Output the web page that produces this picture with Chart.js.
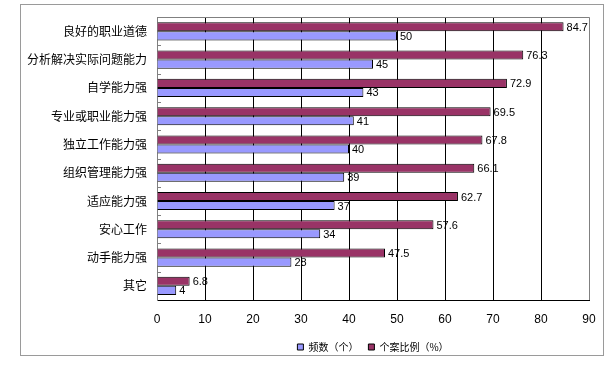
<!DOCTYPE html>
<html>
<head>
<meta charset="utf-8">
<script src="https://cdn.jsdelivr.net/npm/chart.js@4"></script>
<style>
  body { margin: 0; background: #fff; }
</style>
</head>
<body>
<canvas id="barChart" width="610" height="368"></canvas>
<script>
// 就业能力 频数 / 个案比例 横向柱状图

const categories = ['良好的职业道德', '分析解决实际问题能力', '自学能力强', '专业或职业能力强', '独立工作能力强',
    '组织管理能力强', '适应能力强', '安心工作', '动手能力强', '其它'];
const freqValues = [50, 45, 43, 41, 40, 39, 37, 34, 28, 4];
const pctValues = [84.7, 76.3, 72.9, 69.5, 67.8, 66.1, 62.7, 57.6, 47.5, 6.8];
const xTicks = [0, 10, 20, 30, 40, 50, 60, 70, 80, 90];

const cjkFont = '"Noto Sans CJK SC", sans-serif';

// 外框 + 图区上边线 + 左侧小刻度
const framePlugin = {
    id: 'frame',
    beforeDraw(chart) {
        const ctx = chart.ctx;
        ctx.save();
        ctx.fillStyle = '#fff';
        ctx.fillRect(0, 0, chart.width, chart.height);
        ctx.strokeStyle = '#9a9a9a';
        ctx.lineWidth = 1;
        ctx.strokeRect(20.5, 4.5, 583, 351);
        ctx.restore();
    },
    afterDraw(chart) {
        const ctx = chart.ctx;
        const a = chart.chartArea;
        const y = chart.scales.y;
        ctx.save();
        ctx.strokeStyle = '#808080';
        ctx.lineWidth = 1;
        ctx.beginPath();
        ctx.moveTo(a.left, Math.round(a.top) + 0.5);
        ctx.lineTo(a.right, Math.round(a.top) + 0.5);
        for (let i = 1; i < categories.length; i++) {
            const py = Math.round((y.getPixelForValue(i - 1) + y.getPixelForValue(i)) / 2) + 0.5;
            ctx.moveTo(a.left, py);
            ctx.lineTo(a.left + 4, py);
        }
        ctx.stroke();
        ctx.restore();
    }
};

// 数值标签
const valueLabels = {
    id: 'valueLabels',
    afterDatasetsDraw(chart) {
        const ctx = chart.ctx;
        ctx.save();
        ctx.fillStyle = '#000';
        ctx.font = '11px "Liberation Sans", sans-serif';
        ctx.textBaseline = 'middle';
        chart.data.datasets.forEach((ds, di) => {
            chart.getDatasetMeta(di).data.forEach((bar, i) => {
                ctx.fillText(String(ds.data[i]), bar.x + 3, bar.y + 1);
            });
        });
        ctx.restore();
    }
};

const barChart = new Chart(document.getElementById('barChart'), {
    type: 'bar',
    data: {
        labels: categories,
        datasets: [{
            label: '个案比例（%）',
            data: pctValues,
            backgroundColor: '#993366',
            borderColor: '#000',
            borderWidth: 1,
            categoryPercentage: 0.64,
            barPercentage: 1
        }, {
            label: '频数（个）',
            data: freqValues,
            backgroundColor: '#9999ff',
            borderColor: '#000',
            borderWidth: 1,
            categoryPercentage: 0.64,
            barPercentage: 1
        }]
    },
    options: {
        indexAxis: 'y',
        responsive: false,
        animation: false,
        layout: {
            padding: { left: 0, right: 21, top: 13, bottom: 6 }
        },
        scales: {
            x: {
                min: 0,
                max: 90,
                afterBuildTicks: (s) => { s.ticks = xTicks.map(v => ({ value: v })); },
                afterFit: (s) => { s.height = 32; },
                grid: {
                    color: (c) => (c.tick && c.tick.value === 90) ? '#808080' : '#000',
                    drawTicks: false
                },
                border: { color: '#000' },
                ticks: {
                    padding: 12,
                    color: '#000',
                    font: { size: 12, family: '"Liberation Sans", sans-serif' }
                }
            },
            y: {
                afterFit: (s) => { s.width = 157; },
                grid: { display: false, drawTicks: false },
                border: { color: '#808080' },
                ticks: {
                    padding: 10,
                    color: '#000',
                    font: { size: 12, family: cjkFont }
                }
            }
        },
        plugins: {
            legend: {
                display: true,
                position: 'bottom',
                fullSize: false,
                reverse: true,
                labels: {
                    boxWidth: 6,
                    boxHeight: 6,
                    padding: 10,
                    color: '#000',
                    font: { size: 10, family: cjkFont }
                }
            },
            tooltip: { enabled: false }
        }
    },
    plugins: [framePlugin, valueLabels]
});
</script>
</body>
</html>
